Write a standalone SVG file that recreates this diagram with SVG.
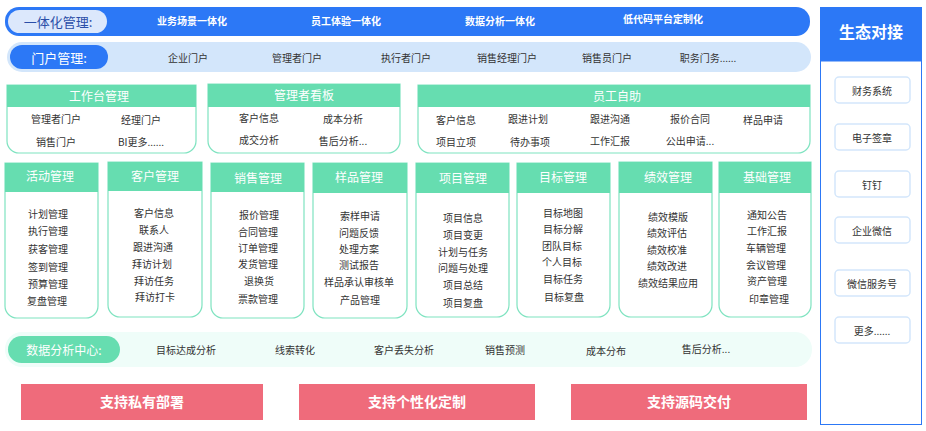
<svg xmlns="http://www.w3.org/2000/svg" width="926" height="431" viewBox="0 0 926 431">
<style>
text{font-family:"Noto Sans CJK SC","Noto Sans",sans-serif;text-anchor:middle;dominant-baseline:central}
.w{fill:#fff;font-size:10px;font-weight:bold}
.i{fill:#333;font-size:10px}
.h{fill:#fff;font-size:12px}
.panel{fill:#fff;stroke:#7FE3C0;stroke-width:1.2}
.hd{fill:#66DDB0}
.eco{fill:#fff;stroke:#D3E6FB;stroke-width:1.5}
.pk{fill:#EF6B7B}
.pt{fill:#fff;font-size:14px;font-weight:bold}
</style>
<rect width="926" height="431" fill="#fff"/>
<g id="integration">
<rect x="5" y="7" width="805" height="29" rx="14" fill="#2C78F6"/>
<rect x="8" y="10" width="99" height="23" rx="11.5" fill="#DCE8FC"/>
<text x="58" y="21.5" font-size="13" fill="#2a4ea8">一体化管理:</text>
<text class="w" x="192" y="20">业务场景一体化</text>
<text class="w" x="346" y="20">员工体验一体化</text>
<text class="w" x="500" y="20">数据分析一体化</text>
<text class="w" x="663" y="18">低代码平台定制化</text>
</g>
<g id="portal">
<rect x="7" y="42" width="804" height="30" rx="15" fill="#D3E6FB"/>
<rect x="10" y="45" width="98" height="24" rx="12" fill="#2C78F6"/>
<text x="59" y="57.5" font-size="13" fill="#fff">门户管理:</text>
<text class="i" x="188" y="57">企业门户</text>
<text class="i" x="297" y="57">管理者门户</text>
<text class="i" x="406" y="57">执行者门户</text>
<text class="i" x="507" y="57">销售经理门户</text>
<text class="i" x="607" y="57">销售员门户</text>
<text class="i" x="708" y="57">职务门务......</text>
</g>
<g id="workbench">
<path class="panel" d="M7 85H196V141a12 12 0 0 1-12 12H19a12 12 0 0 1-12-12Z"/>
<rect class="hd" x="7" y="85" width="189" height="22"/>
<text class="h" x="99" y="95">工作台管理</text>
<text class="i" x="56" y="118">管理者门户</text><text class="i" x="141" y="119">经理门户</text>
<text class="i" x="56" y="141">销售门户</text><text class="i" x="141" y="141">BI更多......</text>
</g>
<g id="dashboard">
<path class="panel" d="M208 84H400V141a12 12 0 0 1-12 12H220a12 12 0 0 1-12-12Z"/>
<rect class="hd" x="208" y="84" width="192" height="23"/>
<text class="h" x="304" y="94">管理者看板</text>
<text class="i" x="259" y="117">客户信息</text><text class="i" x="343" y="118">成本分析</text>
<text class="i" x="259" y="139">成交分析</text><text class="i" x="343" y="140">售后分析...</text>
</g>
<g id="selfservice">
<path class="panel" d="M418 85H810V141a12 12 0 0 1-12 12H430a12 12 0 0 1-12-12Z"/>
<rect class="hd" x="418" y="85" width="392" height="22"/>
<text class="h" x="617" y="95">员工自助</text>
<text class="i" x="456" y="119">客户信息</text><text class="i" x="528" y="118">跟进计划</text><text class="i" x="610" y="118">跟进沟通</text><text class="i" x="690" y="118">报价合同</text><text class="i" x="763" y="119">样品申请</text>
<text class="i" x="456" y="141">项目立项</text><text class="i" x="530" y="141">待办事项</text><text class="i" x="610" y="140">工作汇报</text><text class="i" x="690" y="140">公出申请...</text>
</g>
<g id="activity">
<path class="panel" d="M5 163H98V306a12 12 0 0 1-12 12H17a12 12 0 0 1-12-12Z"/>
<rect class="hd" x="5" y="163" width="93" height="29"/>
<text class="h" x="50" y="175">活动管理</text>
<text class="i" x="48" y="213">计划管理</text><text class="i" x="48" y="230">执行管理</text><text class="i" x="48" y="248">获客管理</text><text class="i" x="48" y="266">签到管理</text><text class="i" x="48" y="283">预算管理</text><text class="i" x="47" y="300">复盘管理</text>
</g>
<g id="customer">
<path class="panel" d="M108 162H202V305a12 12 0 0 1-12 12H120a12 12 0 0 1-12-12Z"/>
<rect class="hd" x="108" y="162" width="94" height="29"/>
<text class="h" x="155" y="175">客户管理</text>
<text class="i" x="154" y="212">客户信息</text><text class="i" x="154" y="229">联系人</text><text class="i" x="153" y="246">跟进沟通</text><text class="i" x="152" y="263">拜访计划</text><text class="i" x="154" y="280">拜访任务</text><text class="i" x="155" y="296">拜访打卡</text>
</g>
<g id="sales">
<path class="panel" d="M211 163H304V306a12 12 0 0 1-12 12H223a12 12 0 0 1-12-12Z"/>
<rect class="hd" x="211" y="163" width="93" height="29"/>
<text class="h" x="258" y="177">销售管理</text>
<text class="i" x="259" y="214">报价管理</text><text class="i" x="258" y="231">合同管理</text><text class="i" x="258" y="247">订单管理</text><text class="i" x="258" y="263">发货管理</text><text class="i" x="259" y="280">退换货</text><text class="i" x="258" y="298">票款管理</text>
</g>
<g id="sample">
<path class="panel" d="M313 163H407V306a12 12 0 0 1-12 12H325a12 12 0 0 1-12-12Z"/>
<rect class="hd" x="313" y="163" width="94" height="30"/>
<text class="h" x="359" y="176">样品管理</text>
<text class="i" x="360" y="215">索样申请</text><text class="i" x="359" y="232">问题反馈</text><text class="i" x="359" y="248">处理方案</text><text class="i" x="359" y="264">测试报告</text><text class="i" x="359" y="281">样品承认审核单</text><text class="i" x="360" y="299">产品管理</text>
</g>
<g id="project">
<path class="panel" d="M416 163H509V305a12 12 0 0 1-12 12H428a12 12 0 0 1-12-12Z"/>
<rect class="hd" x="416" y="163" width="93" height="30"/>
<text class="h" x="463" y="177">项目管理</text>
<text class="i" x="463" y="217">项目信息</text><text class="i" x="463" y="234">项目变更</text><text class="i" x="463" y="251">计划与任务</text><text class="i" x="463" y="267">问题与处理</text><text class="i" x="463" y="284">项目总结</text><text class="i" x="463" y="302">项目复盘</text>
</g>
<g id="target">
<path class="panel" d="M517 163H610V305a12 12 0 0 1-12 12H529a12 12 0 0 1-12-12Z"/>
<rect class="hd" x="517" y="163" width="93" height="30"/>
<text class="h" x="563" y="176">目标管理</text>
<text class="i" x="563" y="212">目标地图</text><text class="i" x="563" y="228">目标分解</text><text class="i" x="562" y="245">团队目标</text><text class="i" x="562" y="261">个人目标</text><text class="i" x="563" y="278">目标任务</text><text class="i" x="564" y="296">目标复盘</text>
</g>
<g id="performance">
<path class="panel" d="M619 162H712V305a12 12 0 0 1-12 12H631a12 12 0 0 1-12-12Z"/>
<rect class="hd" x="619" y="162" width="93" height="31"/>
<text class="h" x="668" y="176">绩效管理</text>
<text class="i" x="668" y="216">绩效模版</text><text class="i" x="667" y="232">绩效评估</text><text class="i" x="667" y="249">绩效校准</text><text class="i" x="667" y="265">绩效改进</text><text class="i" x="668" y="282">绩效结果应用</text>
</g>
<g id="basic">
<path class="panel" d="M719 162H811V305a12 12 0 0 1-12 12H731a12 12 0 0 1-12-12Z"/>
<rect class="hd" x="719" y="162" width="92" height="31"/>
<text class="h" x="767" y="176">基础管理</text>
<text class="i" x="767" y="214">通知公告</text><text class="i" x="767" y="230">工作汇报</text><text class="i" x="766" y="247">车辆管理</text><text class="i" x="766" y="264">会议管理</text><text class="i" x="767" y="280">资产管理</text><text class="i" x="769" y="298">印章管理</text>
</g>
<g id="data">
<rect x="5" y="332" width="807" height="35" rx="17" fill="#EFFDF9"/>
<rect x="8" y="336" width="112" height="27" rx="13.5" fill="#66DDB0"/>
<text x="64" y="349.5" font-size="12" fill="#fff">数据分析中心:</text>
<text class="i" x="186" y="349">目标达成分析</text><text class="i" x="295" y="349">线索转化</text><text class="i" x="404" y="349">客户丢失分析</text><text class="i" x="505" y="349">销售预测</text><text class="i" x="606" y="350">成本分布</text><text class="i" x="706" y="348">售后分析...</text>
</g>
<g id="support">
<rect class="pk" x="21" y="384" width="242" height="36"/><text class="pt" x="142" y="401">支持私有部署</text>
<rect class="pk" x="299" y="384" width="236" height="36"/><text class="pt" x="417" y="401">支持个性化定制</text>
<rect class="pk" x="571" y="384" width="236" height="36"/><text class="pt" x="689" y="401">支持源码交付</text>
</g>
<g id="ecosystem">
<rect x="820.5" y="7.5" width="101" height="417" fill="#fff" stroke="#2C78F6"/>
<rect x="820.5" y="7.5" width="101" height="54" fill="#2C78F6"/>
<text x="871" y="31" font-size="16" font-weight="bold" fill="#fff">生态对接</text>
<rect class="eco" x="835" y="77" width="75" height="26" rx="4"/><text class="i" x="872" y="90" font-size="11">财务系统</text>
<rect class="eco" x="835" y="124" width="75" height="26" rx="4"/><text class="i" x="872" y="137" font-size="11">电子签章</text>
<rect class="eco" x="835" y="171" width="75" height="26" rx="4"/><text class="i" x="872" y="184" font-size="11">钉钉</text>
<rect class="eco" x="835" y="217" width="75" height="26" rx="4"/><text class="i" x="872" y="230" font-size="11">企业微信</text>
<rect class="eco" x="835" y="270" width="75" height="26" rx="4"/><text class="i" x="872" y="283" font-size="11">微信服务号</text>
<rect class="eco" x="835" y="317" width="75" height="26" rx="4"/><text class="i" x="872" y="330" font-size="11">更多......</text>
</g>
<g id="connectors"/>
</svg>
